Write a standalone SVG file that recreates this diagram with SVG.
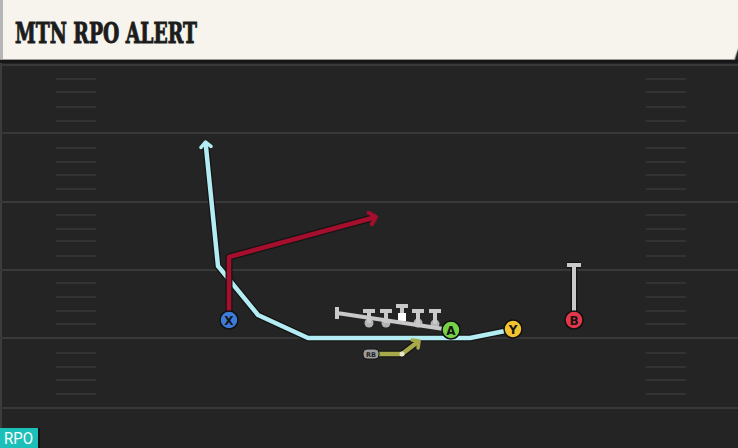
<svg xmlns="http://www.w3.org/2000/svg" width="738" height="448" viewBox="0 0 738 448">
<defs>
<style>
.yard{stroke:#383838;stroke-width:2}
.hash{stroke:#383838;stroke-width:1.6}
.under{fill:none;stroke:#141414;stroke-width:7;stroke-linejoin:round;stroke-linecap:round}
.route{fill:none;stroke-width:4.5;stroke-linejoin:round;stroke-linecap:butt}
.pl{stroke:#101010;stroke-width:1.5}
.lbl{font-family:"DejaVu Sans","Liberation Sans",sans-serif;font-weight:bold;font-size:12px;fill:#151515;text-anchor:middle}
.ol{stroke:#c9c9c9;stroke-width:4;fill:none;stroke-linecap:butt}
.olc{fill:#b3b3b3}
</style>
<marker id="arBlue" markerUnits="userSpaceOnUse" markerWidth="14" markerHeight="14" refX="7" refY="7" orient="auto" viewBox="0 0 14 14"><path d="M2,2 L7,7 L2,12" fill="none" stroke="#b4ecf4" stroke-width="3.5" stroke-linecap="round" stroke-linejoin="round"/></marker>
<marker id="arRed" markerUnits="userSpaceOnUse" markerWidth="16" markerHeight="16" refX="8" refY="8" orient="auto" viewBox="0 0 16 16"><path d="M2,2 L8,8 L2,14" fill="none" stroke="#a50f2d" stroke-width="4" stroke-linecap="round" stroke-linejoin="round"/></marker>
<marker id="arOlive" markerUnits="userSpaceOnUse" markerWidth="14" markerHeight="14" refX="7" refY="7" orient="auto" viewBox="0 0 14 14"><path d="M2,2 L7,7 L2,12" fill="none" stroke="#a8a94a" stroke-width="3.5" stroke-linecap="round" stroke-linejoin="round"/></marker>
</defs>

<!-- field -->
<rect x="0" y="0" width="738" height="448" fill="#242424"/>
<rect x="0" y="60" width="2" height="388" fill="#3c3c3c"/>
<g id="yardlines">
<line class="yard" x1="0" y1="65" x2="738" y2="65"/>
<line class="yard" x1="0" y1="133" x2="738" y2="133"/>
<line class="yard" x1="0" y1="202" x2="738" y2="202"/>
<line class="yard" x1="0" y1="270" x2="738" y2="270"/>
<line class="yard" x1="0" y1="338" x2="738" y2="338"/>
<line class="yard" x1="0" y1="408" x2="738" y2="408"/>
</g>
<g id="hashes">
<path class="hash" d="M56,79H96M56,92H96M56,107H96M56,121H96M56,148H96M56,162H96M56,175H96M56,189H96M56,215H96M56,229H96M56,241H96M56,256H96M56,283H96M56,297H96M56,311H96M56,324H96M56,353H96M56,367H96M56,380H96M56,394H96"/>
<path class="hash" d="M646,79H686M646,92H686M646,107H686M646,121H686M646,148H686M646,162H686M646,175H686M646,189H686M646,215H686M646,229H686M646,241H686M646,256H686M646,283H686M646,297H686M646,311H686M646,324H686M646,353H686M646,367H686M646,380H686M646,394H686"/>
</g>

<!-- header -->
<g id="header">
<rect x="0" y="59" width="738" height="4" fill="#161616"/>
<polygon points="0,0 738,0 738,50 735,60 0,60" fill="#9a9a9a"/>
<polygon points="0,0 738,0 738,48 734,59 0,59" fill="#f6f4ed"/>
<rect x="0" y="0" width="3" height="59" fill="#b5b5b5"/>
<text x="15" y="43" font-family="'DejaVu Serif',serif" font-weight="bold" font-size="28" fill="#1c1c1c" stroke="#1c1c1c" stroke-width="1" textLength="182" lengthAdjust="spacingAndGlyphs">MTN RPO ALERT</text>
</g>

<!-- connectors -->
<g id="connectors">
<path class="under" d="M505,331 L470,338 L308,338 L258,315 L218,266 L206,146"/>
<path class="route" stroke="#b4ecf4" d="M505,331 L470,338 L308,338 L258,315 L218,266 L205.5,142" marker-end="url(#arBlue)"/>
<path class="under" d="M229,318 L229,257 L372,218"/>
<path class="route" stroke="#a50f2d" d="M229,318 L229,257 L376,217" marker-end="url(#arRed)"/>
<path class="under" d="M379,354 L402,354 L416,343"/>
<path class="route" stroke="#a8a94a" d="M379,354 L402,354 L419,341" marker-end="url(#arOlive)"/>
<circle cx="402" cy="354" r="2.5" fill="#e6e6c8"/>
<path d="M574,318 V265 M567,265 H581" stroke="#141414" stroke-width="6.5" fill="none"/>
<path d="M574,318 V265 M567,265 H581" stroke="#c9c9c9" stroke-width="4" fill="none"/>
</g>

<!-- offensive line -->
<g id="node-ol">
<g class="olc">
<circle cx="369" cy="323" r="4.5"/>
<circle cx="386" cy="323" r="4.5"/>
<circle cx="418" cy="323" r="4.5"/>
<circle cx="435" cy="324" r="4.5"/>
</g>
<path class="ol" d="M369,323 V311 M363,311 H375 M386,323 V311 M380,311 H392 M402,317 V306 M396,306 H408 M418,323 V311 M412,311 H424 M435,324 V311 M429,311 H441"/>
<rect x="398" y="313" width="8" height="8" fill="#ffffff"/>
<path class="ol" d="M337,313 L444,329 M337,307 V319"/>
</g>

<!-- players -->
<g id="node-x">
<circle class="pl" cx="229" cy="320" r="9" fill="#3d7bd8"/>
<text class="lbl" x="229" y="324.5">X</text>
</g>
<g id="node-a">
<circle class="pl" cx="451" cy="330" r="9" fill="#74d244"/>
<text class="lbl" x="451" y="334.5">A</text>
</g>
<g id="node-y">
<circle class="pl" cx="513" cy="329" r="9" fill="#f3c22f"/>
<text class="lbl" x="513" y="333.5">Y</text>
</g>
<g id="node-b">
<circle class="pl" cx="574" cy="320" r="9" fill="#e4384a"/>
<text class="lbl" x="574" y="324.5">B</text>
</g>
<g id="node-rb">
<rect x="363" y="349" width="16" height="10" rx="4" fill="#9c9c9c" stroke="#141414" stroke-width="1"/>
<text x="371" y="357" font-family="'DejaVu Sans','Liberation Sans',sans-serif" font-size="6.5" font-weight="bold" fill="#222" text-anchor="middle">RB</text>
</g>

<!-- tag -->
<g id="tag">
<rect x="0" y="428" width="40" height="20" fill="#111"/>
<rect x="0" y="428" width="38" height="20" fill="#1cc0b8"/>
<text x="4" y="444" font-family="'Roboto','Liberation Sans',sans-serif" font-size="16" fill="#ffffff" textLength="29" lengthAdjust="spacingAndGlyphs">RPO</text>
</g>
</svg>
